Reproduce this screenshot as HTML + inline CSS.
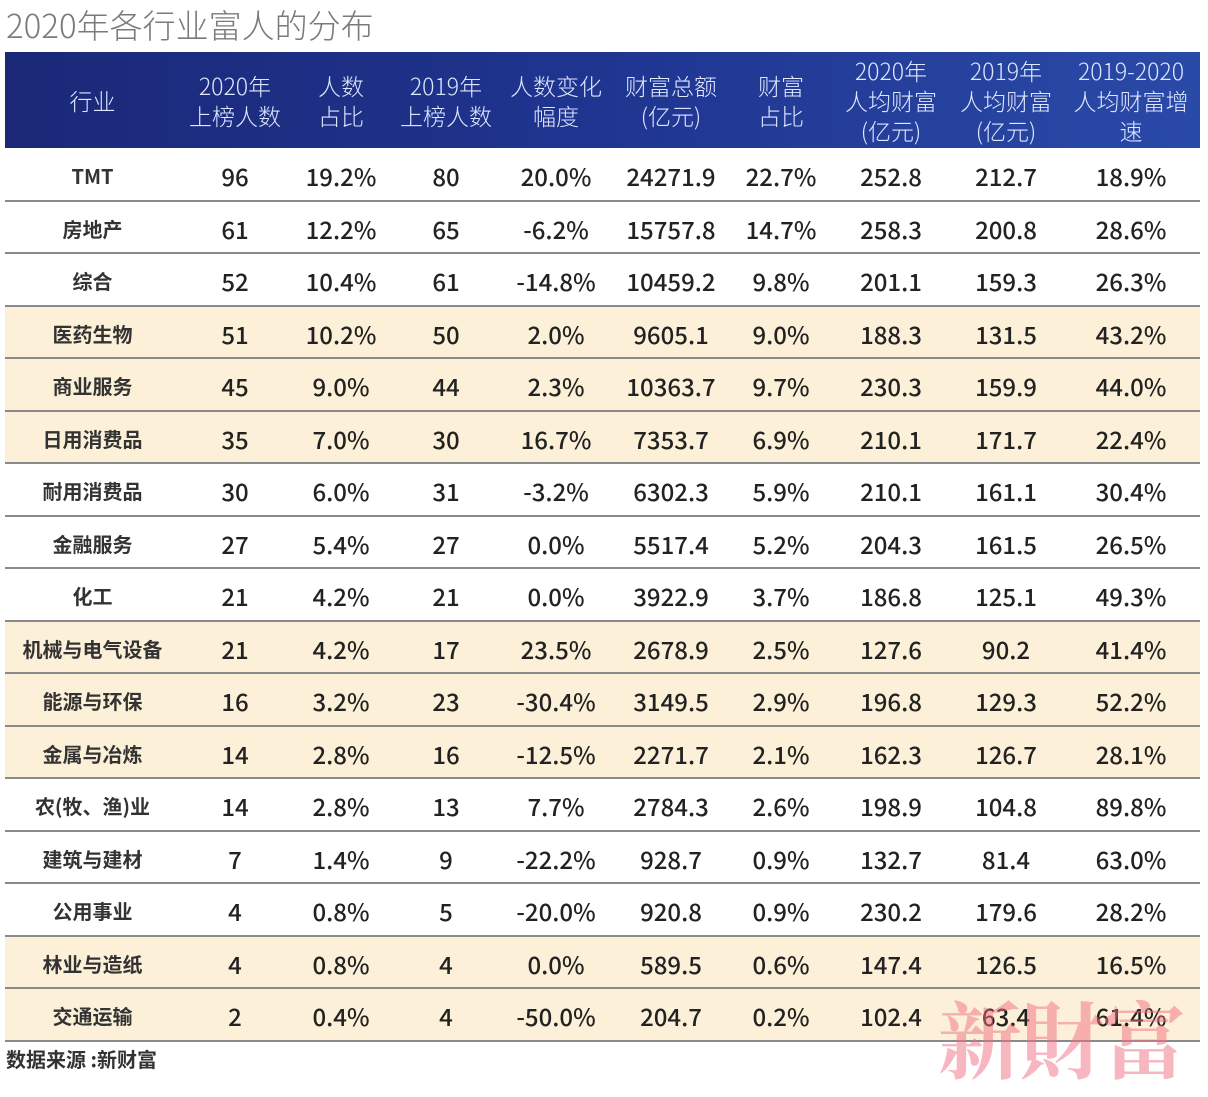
<!DOCTYPE html>
<html><head><meta charset="utf-8"><style>
body{margin:0;width:1208px;height:1086px;background:#fff;position:relative;overflow:hidden;font-family:"Noto Sans CJK SC","Liberation Sans",sans-serif;}
.title{position:absolute;left:6px;top:0px;font-size:33px;color:#7a7a7a;font-weight:300;}
table{position:absolute;left:5px;top:52px;width:1195px;border-collapse:collapse;table-layout:fixed;}
thead tr{height:96px;background:linear-gradient(90deg,#1b2878 0%,#1f3590 50%,#2a4aa8 100%);}
th{color:#dfe6ff;font-weight:300;font-size:23px;line-height:30px;text-align:center;padding:0;}
tbody tr{height:52.5px;}
td{text-align:center;font-size:24px;font-weight:500;color:#222;padding:4px 0 0 0;border-bottom:2px solid #8a8a8a;line-height:28px;}
td:first-child{font-size:20px;font-weight:bold;color:#333;}
tr.b td{background:#fcf1d8;}
.src{position:absolute;left:6px;top:1044px;font-size:20px;color:#333;font-weight:bold;}
.wm{position:absolute;left:938px;top:976px;font-family:"Noto Serif CJK SC",serif;font-size:84px;font-weight:bold;color:rgba(240,110,130,0.5);letter-spacing:-2px;}
</style></head><body>
<div class="title">2020年各行业富人的分布</div>
<table>
<colgroup><col style="width:175px"><col style="width:110px"><col style="width:102px"><col style="width:108px"><col style="width:112px"><col style="width:118px"><col style="width:102px"><col style="width:118px"><col style="width:112px"><col style="width:138px"></colgroup>
<thead><tr><th>行业</th><th>2020年<br>上榜人数</th><th>人数<br>占比</th><th>2019年<br>上榜人数</th><th>人数变化<br>幅度</th><th>财富总额<br>(亿元)</th><th>财富<br>占比</th><th>2020年<br>人均财富<br>(亿元)</th><th>2019年<br>人均财富<br>(亿元)</th><th>2019-2020<br>人均财富增<br>速</th></tr></thead>
<tbody>
<tr><td>TMT</td><td>96</td><td>19.2%</td><td>80</td><td>20.0%</td><td>24271.9</td><td>22.7%</td><td>252.8</td><td>212.7</td><td>18.9%</td></tr>
<tr><td>房地产</td><td>61</td><td>12.2%</td><td>65</td><td>-6.2%</td><td>15757.8</td><td>14.7%</td><td>258.3</td><td>200.8</td><td>28.6%</td></tr>
<tr><td>综合</td><td>52</td><td>10.4%</td><td>61</td><td>-14.8%</td><td>10459.2</td><td>9.8%</td><td>201.1</td><td>159.3</td><td>26.3%</td></tr>
<tr class="b"><td>医药生物</td><td>51</td><td>10.2%</td><td>50</td><td>2.0%</td><td>9605.1</td><td>9.0%</td><td>188.3</td><td>131.5</td><td>43.2%</td></tr>
<tr class="b"><td>商业服务</td><td>45</td><td>9.0%</td><td>44</td><td>2.3%</td><td>10363.7</td><td>9.7%</td><td>230.3</td><td>159.9</td><td>44.0%</td></tr>
<tr class="b"><td>日用消费品</td><td>35</td><td>7.0%</td><td>30</td><td>16.7%</td><td>7353.7</td><td>6.9%</td><td>210.1</td><td>171.7</td><td>22.4%</td></tr>
<tr><td>耐用消费品</td><td>30</td><td>6.0%</td><td>31</td><td>-3.2%</td><td>6302.3</td><td>5.9%</td><td>210.1</td><td>161.1</td><td>30.4%</td></tr>
<tr><td>金融服务</td><td>27</td><td>5.4%</td><td>27</td><td>0.0%</td><td>5517.4</td><td>5.2%</td><td>204.3</td><td>161.5</td><td>26.5%</td></tr>
<tr><td>化工</td><td>21</td><td>4.2%</td><td>21</td><td>0.0%</td><td>3922.9</td><td>3.7%</td><td>186.8</td><td>125.1</td><td>49.3%</td></tr>
<tr class="b"><td>机械与电气设备</td><td>21</td><td>4.2%</td><td>17</td><td>23.5%</td><td>2678.9</td><td>2.5%</td><td>127.6</td><td>90.2</td><td>41.4%</td></tr>
<tr class="b"><td>能源与环保</td><td>16</td><td>3.2%</td><td>23</td><td>-30.4%</td><td>3149.5</td><td>2.9%</td><td>196.8</td><td>129.3</td><td>52.2%</td></tr>
<tr class="b"><td>金属与冶炼</td><td>14</td><td>2.8%</td><td>16</td><td>-12.5%</td><td>2271.7</td><td>2.1%</td><td>162.3</td><td>126.7</td><td>28.1%</td></tr>
<tr><td>农(牧、渔)业</td><td>14</td><td>2.8%</td><td>13</td><td>7.7%</td><td>2784.3</td><td>2.6%</td><td>198.9</td><td>104.8</td><td>89.8%</td></tr>
<tr><td>建筑与建材</td><td>7</td><td>1.4%</td><td>9</td><td>-22.2%</td><td>928.7</td><td>0.9%</td><td>132.7</td><td>81.4</td><td>63.0%</td></tr>
<tr><td>公用事业</td><td>4</td><td>0.8%</td><td>5</td><td>-20.0%</td><td>920.8</td><td>0.9%</td><td>230.2</td><td>179.6</td><td>28.2%</td></tr>
<tr class="b"><td>林业与造纸</td><td>4</td><td>0.8%</td><td>4</td><td>0.0%</td><td>589.5</td><td>0.6%</td><td>147.4</td><td>126.5</td><td>16.5%</td></tr>
<tr class="b"><td>交通运输</td><td>2</td><td>0.4%</td><td>4</td><td>-50.0%</td><td>204.7</td><td>0.2%</td><td>102.4</td><td>63.4</td><td>61.4%</td></tr>
</tbody></table>
<div class="src">数据来源 :新财富</div>
<div class="wm">新財富</div>
</body></html>
